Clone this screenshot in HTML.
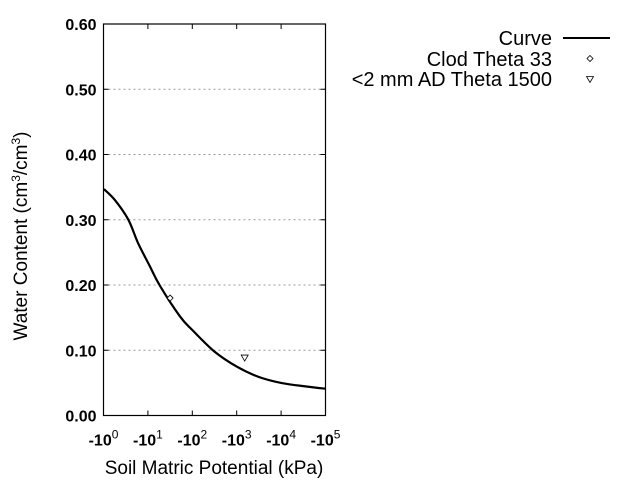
<!DOCTYPE html>
<html><head><meta charset="utf-8"><style>
body{margin:0;background:#fff}
svg{display:block;font-family:"Liberation Sans",Arial,sans-serif}
</style></head><body>
<svg id="chart" width="640" height="480" viewBox="0 0 640 480">
<g id="grid"></g>
<g id="axes"></g>
<g id="series"></g>
<g id="legend">
 <text x="552" y="45" text-anchor="end" font-size="20">Curve</text>
 <line x1="563" y1="38" x2="610" y2="38" stroke="#000" stroke-width="2"/>
 <text x="552" y="66" text-anchor="end" font-size="20">Clod Theta 33</text>
 <path d="M590,55.5 l3,3 l-3,3 l-3,-3 z" fill="none" stroke="#000" stroke-width="0.8"/>
 <text x="552" y="86" text-anchor="end" font-size="20">&lt;2 mm AD Theta 1500</text>
 <path d="M586.5,76.5 h7 l-3.5,6 z" fill="none" stroke="#000" stroke-width="0.8"/>
</g>
<text x="214" y="474" text-anchor="middle" font-size="19">Soil Matric Potential (kPa)</text>
<text transform="translate(27,236) rotate(-90)" text-anchor="middle" font-size="19">Water Content (cm<tspan baseline-shift="super" font-size="12">3</tspan>/cm<tspan baseline-shift="super" font-size="12">3</tspan>)</text>
</svg>
<script>
const curveLogH = [0.01, 0.26, 0.56, 0.78, 1.05, 1.27, 1.72, 2.0, 2.5, 3.0, 3.5, 4.0, 4.5, 5.0];
const curveTheta = [0.347, 0.33, 0.30, 0.264, 0.228, 0.199, 0.152, 0.131, 0.098, 0.075, 0.059, 0.050, 0.045, 0.041];
const clodLogH = [1.5];
const clodTheta = [0.18];
const adLogH = [3.18];
const adTheta = [0.088];
const xTickExp = ["0","1","2","3","4","5"];
const yTicks = ["0.00","0.10","0.20","0.30","0.40","0.50","0.60"];

const L=103.5,R=325.5,T=24,B=415.5;
const xs=v=>L+(v-0)/(5-0)*(R-L);
const ys=v=>B-(v/0.6)*(B-T);
const NS="http://www.w3.org/2000/svg";
function mk(tag,attrs,parent){const e=document.createElementNS(NS,tag);for(const k in attrs)e.setAttribute(k,attrs[k]);parent.appendChild(e);return e;}
const grid=document.getElementById('grid'),axes=document.getElementById('axes'),series=document.getElementById('series');

yTicks.forEach((t,i)=>{
  const v=parseFloat(t),y=ys(v);
  if(v>0&&v<0.6){const g=mk('line',{x1:L,x2:R,y1:y,y2:y,stroke:'#999','stroke-width':1,'stroke-dasharray':'2,3'},grid);
  
  }
  const tk=mk('line',{x1:L,x2:L+5,y1:y,y2:y,stroke:'#000'},axes);
  
  
  const tk2=mk('line',{x1:R-5,x2:R,y1:y,y2:y,stroke:'#000'},axes);
  
  
  const tx=mk('text',{x:L-7,y:y+6,'text-anchor':'end','font-size':16,'font-weight':'bold'},axes);
  tx.textContent=t;
  
  
});
xTickExp.forEach((e,i)=>{
  const x=xs(parseFloat(e));
  const tk=mk('line',{x1:x,x2:x,y1:B,y2:B-5,stroke:'#000'},axes);
  
  
  const tk2=mk('line',{x1:x,x2:x,y1:T,y2:T+5,stroke:'#000'},axes);
  
  
  const tx=mk('text',{x:x,y:B+30,'text-anchor':'middle','font-size':16,'font-weight':'bold'},axes);
  tx.textContent='-10';
  const sp=mk('tspan',{'baseline-shift':'super','font-size':12,'font-weight':'normal'},tx);
  sp.textContent=e;
  
  
});
const frame=mk('rect',{x:L,y:T,width:R-L,height:B-T,fill:'none',stroke:'#000','stroke-width':1.2},axes);



// smooth path (Catmull-Rom)
const P=curveLogH.map((v,i)=>[xs(v),ys(curveTheta[i])]);
let d='M'+P[0][0].toFixed(1)+','+P[0][1].toFixed(1);
for(let i=0;i<P.length-1;i++){
  const p0=P[Math.max(i-1,0)],p1=P[i],p2=P[i+1],p3=P[Math.min(i+2,P.length-1)];
  const c1=[p1[0]+(p2[0]-p0[0])/6,p1[1]+(p2[1]-p0[1])/6];
  const c2=[p2[0]-(p3[0]-p1[0])/6,p2[1]-(p3[1]-p1[1])/6];
  d+=` C${c1[0].toFixed(1)},${c1[1].toFixed(1)} ${c2[0].toFixed(1)},${c2[1].toFixed(1)} ${p2[0].toFixed(1)},${p2[1].toFixed(1)}`;
}
const line=mk('path',{d:d,fill:'none',stroke:'#000','stroke-width':2.2,'stroke-linejoin':'round'},series);


clodLogH.forEach((v,i)=>{
  const x=xs(v),y=ys(clodTheta[i]);
  const p=mk('path',{d:`M${x},${y-3} l3,3 l-3,3 l-3,-3 z`,fill:'#fff',stroke:'#000','stroke-width':0.8},series);
  
  
});
adLogH.forEach((v,i)=>{
  const x=xs(v),y=ys(adTheta[i]);
  const p=mk('path',{d:`M${x-3.5},${y-3} h7 l-3.5,6 z`,fill:'#fff',stroke:'#000','stroke-width':0.8},series);
  
  
});
</script>
</body></html>
